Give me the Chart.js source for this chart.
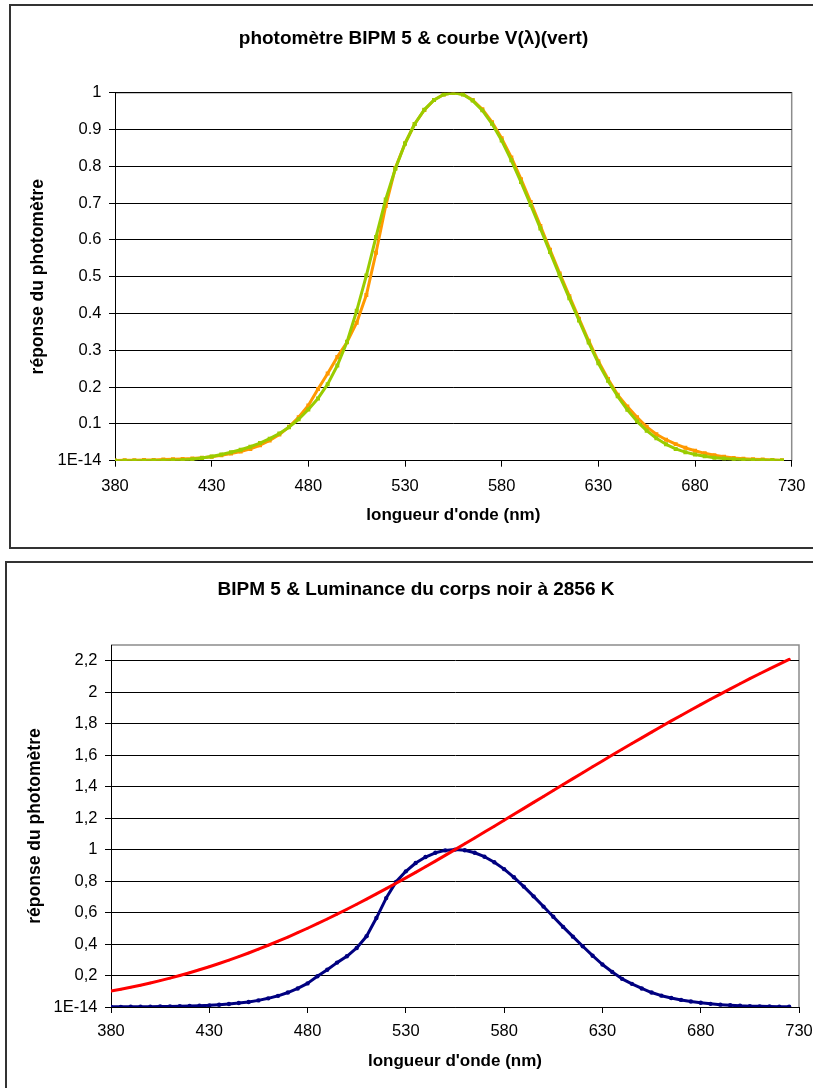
<!DOCTYPE html>
<html lang="fr">
<head>
<meta charset="utf-8">
<title>photomètre BIPM 5</title>
<script src="https://cdn.jsdelivr.net/npm/chart.js@4.4.1/dist/chart.umd.min.js"></script>
<style>
    html, body { margin: 0; padding: 0; background: #fff; overflow: hidden; width: 813px; height: 1088px; }
    .box { position: absolute; border: 2px solid #333; box-sizing: border-box; }
    #boxTop { left: 9px; top: 4px; width: 900px; height: 545px; }
    #boxBottom { left: 5px; top: 561px; width: 900px; height: 600px; }
    .wrap { position: absolute; left: 0; }
    #wrapTop { top: 0; }
    #wrapBottom { top: 556px; }
    canvas { display: block; }
</style>
</head>
<body>
<div class="box" id="boxTop"></div>
<div class="box" id="boxBottom"></div>
<div class="wrap" id="wrapTop"><canvas id="chartTop" width="830" height="550"></canvas></div>
<div class="wrap" id="wrapBottom"><canvas id="chartBottom" width="830" height="532"></canvas></div>

<script>
// longueurs d'onde (nm), pas de 5 nm
const wavelengths = [
    380, 385, 390, 395, 400, 405, 410, 415, 420, 425,
    430, 435, 440, 445, 450, 455, 460, 465, 470, 475,
    480, 485, 490, 495, 500, 505, 510, 515, 520, 525,
    530, 535, 540, 545, 550, 555, 560, 565, 570, 575,
    580, 585, 590, 595, 600, 605, 610, 615, 620, 625,
    630, 635, 640, 645, 650, 655, 660, 665, 670, 675,
    680, 685, 690, 695, 700, 705, 710, 715, 720, 725
];

// courbe V(lambda) (vert)
const vLambda = [
    0.00004, 0.00006, 0.00012, 0.00022, 0.0004, 0.00064, 0.00121, 0.00218, 0.004, 0.0073,
    0.0116, 0.01684, 0.023, 0.0298, 0.038, 0.048, 0.06, 0.0739, 0.091, 0.1126,
    0.139, 0.1693, 0.208, 0.2586, 0.323, 0.4073, 0.503, 0.6082, 0.71, 0.7932,
    0.862, 0.9149, 0.954, 0.9803, 0.995, 1.0, 0.995, 0.9786, 0.952, 0.9154,
    0.87, 0.8163, 0.757, 0.6949, 0.631, 0.5668, 0.503, 0.4412, 0.381, 0.321,
    0.265, 0.217, 0.175, 0.1382, 0.107, 0.0816, 0.061, 0.0446, 0.032, 0.0232,
    0.017, 0.0119, 0.0082, 0.0057, 0.0041, 0.0029, 0.0021, 0.0015, 0.001, 0.0007
];

// réponse du photomètre BIPM 5
const bipm5 = [
    0.0008, 0.001, 0.0013, 0.0017, 0.0022, 0.003, 0.0038, 0.0048, 0.006, 0.008,
    0.0105, 0.0145, 0.0195, 0.025, 0.032, 0.042, 0.055, 0.071, 0.092, 0.118,
    0.15, 0.195, 0.237, 0.282, 0.322, 0.375, 0.45, 0.565, 0.692, 0.795,
    0.862, 0.915, 0.953, 0.98, 0.995, 1.0, 0.996, 0.98, 0.955, 0.92,
    0.876, 0.824, 0.765, 0.703, 0.638, 0.573, 0.509, 0.447, 0.386, 0.326,
    0.27, 0.222, 0.179, 0.147, 0.118, 0.092, 0.072, 0.057, 0.045, 0.035,
    0.027, 0.02, 0.015, 0.011, 0.0075, 0.0055, 0.004, 0.003, 0.002, 0.0015
];

// luminance du corps noir à 2856 K (relative, 1 à 555 nm)
const blackBody = [
    0.1016, 0.1131, 0.1254, 0.1386, 0.1526, 0.1676, 0.1834, 0.2002, 0.2178, 0.2365,
    0.2559, 0.2764, 0.2978, 0.32, 0.3432, 0.3673, 0.3923, 0.418, 0.4447, 0.4721,
    0.5004, 0.5294, 0.5592, 0.5897, 0.6209, 0.6527, 0.6852, 0.7183, 0.7518, 0.786,
    0.8206, 0.8557, 0.8912, 0.9271, 0.9635, 1.0, 1.0369, 1.0739, 1.1114, 1.1488,
    1.1864, 1.2242, 1.2621, 1.2999, 1.3378, 1.3756, 1.4134, 1.4512, 1.4887, 1.5261,
    1.5635, 1.6006, 1.6374, 1.674, 1.7102, 1.7463, 1.7821, 1.8176, 1.8524, 1.887,
    1.9215, 1.955, 1.9883, 2.0214, 2.0538, 2.0859, 2.1174, 2.1483, 2.1788, 2.2086
];

// graduations
const xTicks = [380, 430, 480, 530, 580, 630, 680, 730];
const yTicksTop = [0, 0.1, 0.2, 0.3, 0.4, 0.5, 0.6, 0.7, 0.8, 0.9, 1];
const yLabelsTop = ['1E-14', '0.1', '0.2', '0.3', '0.4', '0.5', '0.6', '0.7', '0.8', '0.9', '1'];
const yTicksBottom = [0, 0.2, 0.4, 0.6, 0.8, 1, 1.2, 1.4, 1.6, 1.8, 2, 2.2];
const yLabelsBottom = ['1E-14', '0,2', '0,4', '0,6', '0,8', '1', '1,2', '1,4', '1,6', '1,8', '2', '2,2'];

const FONT = "'Liberation Sans', Arial, sans-serif";

const pts = (ys) => wavelengths.map((x, i) => ({ x: x, y: ys[i] }));

// cadre gris de la zone de tracé (haut et droite), sous la grille
const plotFrame = {
    id: 'plotFrame',
    beforeDraw(chart) {
        const a = chart.chartArea;
        const ctx = chart.ctx;
        ctx.save();
        ctx.strokeStyle = '#8c8c8c';
        ctx.lineWidth = 1.5;
        ctx.beginPath();
        ctx.moveTo(a.left, a.top);
        ctx.lineTo(a.right, a.top);
        ctx.lineTo(a.right, a.bottom);
        ctx.stroke();
        ctx.restore();
    }
};

function makeChart(id, cfg) {
    const ctx = document.getElementById(id).getContext('2d');
    return new Chart(ctx, {
        type: 'line',
        data: { datasets: cfg.datasets },
        options: {
            responsive: false,
            animation: false,
            layout: { padding: cfg.padding },
            elements: { line: { tension: 0, borderJoinStyle: 'round', borderCapStyle: 'round' } },
            plugins: {
                legend: { display: false },
                tooltip: { enabled: false },
                title: {
                    display: true,
                    text: cfg.title,
                    color: '#000',
                    font: { family: FONT, size: 19, weight: 'bold' },
                    padding: cfg.titlePadding
                }
            },
            scales: {
                x: {
                    type: 'linear',
                    min: 380,
                    max: 730,
                    afterBuildTicks: (s) => { s.ticks = xTicks.map(v => ({ value: v })); },
                    afterFit: (s) => { s.height = 65; },
                    ticks: { autoSkip: false, maxRotation: 0, color: '#000', padding: cfg.xTickPad,
                             font: { family: FONT, size: 16.5 } },
                    grid: { drawOnChartArea: false, drawTicks: true, tickLength: 6, color: '#000' },
                    border: { color: '#000', width: 1 },
                    title: { display: true, text: "longueur d'onde (nm)", color: '#000', padding: 0,
                             font: { family: FONT, size: 17, weight: 'bold' } }
                },
                y: {
                    min: 0,
                    max: cfg.yMax,
                    afterBuildTicks: (s) => { s.ticks = cfg.yTicks.map(v => ({ value: v })); },
                    afterFit: (s) => { s.width = cfg.yWidth; },
                    ticks: {
                        autoSkip: false,
                        color: '#000',
                        padding: 7.5,
                        font: { family: FONT, size: 16.5 },
                        callback: (v) => {
                            const i = cfg.yTicks.findIndex(t => Math.abs(t - v) < 1e-9);
                            return i >= 0 ? cfg.yLabels[i] : '';
                        }
                    },
                    grid: { color: '#000', lineWidth: 1, drawTicks: true, tickLength: 6 },
                    border: { color: '#000', width: 1 },
                    title: { display: true, text: 'réponse du photomètre', color: '#000',
                             padding: { top: cfg.yTitlePad, bottom: 0 },
                             font: { family: FONT, size: 17.5, weight: 'bold' } }
                }
            }
        },
        plugins: [plotFrame]
    });
}

makeChart('chartTop', {
    title: 'photomètre BIPM 5 & courbe V(λ)(vert)',
    titlePadding: { top: 26.9, bottom: 43 },
    padding: { left: 35.3, right: 38.3, top: 0, bottom: 24.3 },
    yMax: 1,
    yTicks: yTicksTop,
    yLabels: yLabelsTop,
    yWidth: 79.7,
    yTitlePad: -7.8,
    xTickPad: 9.4,
    datasets: [
        { label: 'V(λ)', data: pts(vLambda), order: 0,
          borderColor: '#99CC00', backgroundColor: '#99CC00', borderWidth: 3,
          pointStyle: 'rect', pointRadius: 2.8, pointBorderWidth: 0 },
        { label: 'BIPM 5', data: pts(bipm5), order: 1,
          borderColor: '#FF9900', backgroundColor: '#FF9900', borderWidth: 3,
          pointStyle: 'rect', pointRadius: 2.8, pointBorderWidth: 0 }
    ]
});

makeChart('chartBottom', {
    title: 'BIPM 5 & Luminance du corps noir à 2856 K',
    titlePadding: { top: 22.6, bottom: 43.6 },
    padding: { left: 33, right: 31, top: 0, bottom: 16 },
    yMax: 2.3,
    yTicks: yTicksBottom,
    yLabels: yLabelsBottom,
    yWidth: 78,
    yTitlePad: -8.5,
    xTickPad: 8.8,
    datasets: [
        { label: 'corps noir 2856 K', data: pts(blackBody), order: 0,
          borderColor: '#FF0000', backgroundColor: '#FF0000', borderWidth: 3,
          pointRadius: 1.2, pointBorderWidth: 0 },
        { label: 'BIPM 5', data: pts(bipm5), order: 1,
          borderColor: '#000080', backgroundColor: '#000080', borderWidth: 3,
          pointStyle: 'circle', pointRadius: 2.2, pointBorderWidth: 0 }
    ]
});
</script>
</body>
</html>
